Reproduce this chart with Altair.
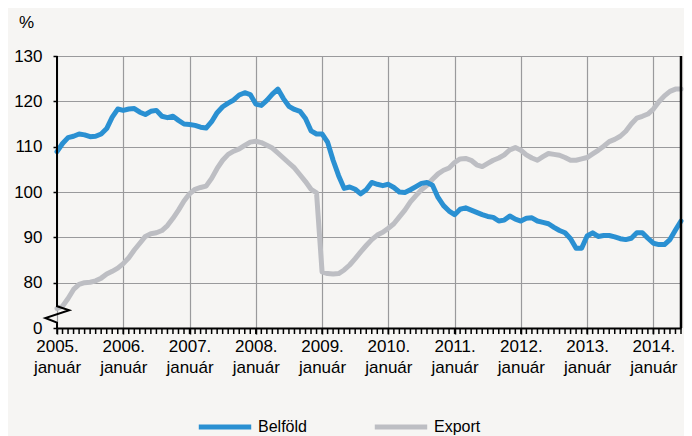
import json
import altair as alt
import pandas as pd

# ---- data (monthly, 2005 Jan .. 2014 Jun) ----
belfold = [
    108.9, 110.7, 112.0, 112.3, 112.8, 112.6, 112.2, 112.3, 112.8, 114.0, 116.5, 118.3,
    118.0, 118.3, 118.4, 117.6, 117.1, 117.8, 118.0, 116.7, 116.4, 116.7, 115.8, 115.0,
    114.9, 114.7, 114.3, 114.1, 115.5, 117.5, 118.8, 119.6, 120.3, 121.4, 121.9, 121.5,
    119.4, 119.1, 120.2, 121.6, 122.7, 120.6, 118.9, 118.2, 117.8, 116.2, 113.5, 112.8,
    112.8, 111.0, 107.0, 103.6, 100.8, 101.1, 100.6, 99.6, 100.5, 102.1, 101.7, 101.4,
    101.7, 101.0, 100.0, 99.9, 100.5, 101.2, 101.9, 102.1, 101.5, 98.8, 97.0, 95.8,
    95.0, 96.2, 96.5, 96.0, 95.5, 95.0, 94.6, 94.4, 93.6, 93.8, 94.7, 94.0,
    93.6, 94.2, 94.3, 93.6, 93.3, 93.0, 92.2, 91.5, 91.0, 89.7, 87.6, 87.6,
    90.3, 91.0, 90.2, 90.4, 90.4, 90.1, 89.7, 89.5, 89.8, 91.0, 91.0, 89.8,
    88.7, 88.4, 88.4, 89.5, 91.6, 93.6,
]
export = [
    74.3, 74.8, 76.5, 78.5, 79.6, 80.0, 80.1, 80.4, 81.0, 81.9, 82.5, 83.2,
    84.2, 85.5, 87.2, 88.7, 90.2, 90.8, 91.0, 91.5, 92.6, 94.2, 96.0, 98.0,
    99.6, 100.6, 101.0, 101.3, 103.0, 105.2, 107.0, 108.3, 109.0, 109.5, 110.3, 111.0,
    111.2, 110.9, 110.3, 109.7, 108.6, 107.5, 106.4, 105.3, 103.8, 102.3, 100.6, 99.8,
    82.4, 82.0, 81.9, 82.0, 82.8, 83.9, 85.3, 86.8, 88.2, 89.5, 90.5, 91.1,
    92.0, 93.0, 94.5, 96.0, 97.8, 99.2, 100.5, 101.5, 102.8, 104.0, 104.8, 105.3,
    106.5, 107.3, 107.4, 107.0, 106.0, 105.6, 106.3, 107.0, 107.5, 108.2, 109.3, 109.8,
    109.2, 108.2, 107.5, 107.0, 107.8, 108.5, 108.3, 108.1, 107.6, 107.0, 107.0, 107.3,
    107.6, 108.4, 109.2, 110.1, 111.1, 111.6, 112.3, 113.4, 115.0, 116.3, 116.7, 117.2,
    118.3, 119.9, 121.2, 122.2, 122.7, 122.7,
]
series_names = ["Belföld", "Export"]
year_labels = ["2005.", "2006.", "2007.", "2008.", "2009.", "2010.",
               "2011.", "2012.", "2013.", "2014."]
month_word = "január"
y_ticks = [70, 80, 90, 100, 110, 120, 130]
y_break_label = "0"
y_unit = "%"

# axis-break zigzag (x in months, y in index units)
break_x = [0, 0, 2.2, -2.1, 0, 0]
break_y = [130, 74.8, 73.9, 72.2, 71.2, 70]

BLUE = "#2a90d2"
GRAY = "#bdbec3"
BG = "#f6f5f3"
GRID = "#9a9a9c"
FONT = "Liberation Sans"
FS = 17

n = len(belfold)
months = list(range(n))
last = n - 1
year_pos = [12 * i for i in range(len(year_labels))]

# Export first so Belföld is drawn on top
df = pd.DataFrame({
    "m": months + months,
    "v": export + belfold,
    "s": ["Export"] * n + ["Belföld"] * n,
})
df_break = pd.DataFrame({"m": break_x, "v": break_y, "i": list(range(len(break_x)))})
df_border = pd.DataFrame({"m": [last], "v": [y_ticks[-1]], "v2": [y_ticks[0]]})
df_ticks = pd.DataFrame({"m": months, "v": [y_ticks[0]] * n})

x_scale = alt.Scale(domain=[0, last], nice=False, zero=False)
y_scale = alt.Scale(domain=[y_ticks[0], y_ticks[-1]], nice=False, zero=False)

label_arr = json.dumps([[y, month_word] for y in year_labels], ensure_ascii=False)
x_axis = alt.Axis(
    values=year_pos,
    labelExpr=f"{label_arr}[round(datum.value / 12)]",
    labelOverlap=False, labelFlush=False, labelBound=False,
    tickSize=6, tickColor="black", tickWidth=1.5,
    domainColor="black", domainWidth=2,
    grid=True, gridColor=GRID, gridWidth=1.2,
    labelFont=FONT, labelFontSize=FS, labelColor="black",
    labelPadding=4, labelLineHeight=21,
    title=None,
)
y_axis = alt.Axis(
    values=y_ticks,
    labelExpr=f"datum.value === {y_ticks[0]} ? '{y_break_label}' : datum.label",
    domain=False, tickSize=4, tickColor="black", tickWidth=1.5,
    grid=True, gridColor=GRID, gridWidth=1.2,
    labelFont=FONT, labelFontSize=FS, labelColor="black", labelPadding=11,
    title=y_unit, titleAngle=0, titleX=-31, titleY=-34,
    titleAlign="center", titleBaseline="middle",
    titleFont=FONT, titleFontSize=FS, titleFontWeight="normal", titleColor="black",
)

lines = alt.Chart(df).mark_line(strokeWidth=5, strokeJoin="round", strokeCap="round").encode(
    x=alt.X("m:Q", scale=x_scale, axis=x_axis),
    y=alt.Y("v:Q", scale=y_scale, axis=y_axis),
    color=alt.Color(
        "s:N",
        scale=alt.Scale(domain=series_names, range=[BLUE, GRAY]),
        legend=alt.Legend(
            orient="none", legendX=139, legendY=342, direction="horizontal",
            title=None, symbolType="stroke", symbolSize=2750, symbolStrokeWidth=5,
            labelFont=FONT, labelFontSize=16, labelColor="black",
            labelOffset=4, columnPadding=57,
        ),
    ),
)

minor = alt.Chart(df_ticks).mark_rule(color="black", strokeWidth=1.5, y2Offset=6).encode(
    x=alt.X("m:Q", scale=x_scale),
    y=alt.Y("v:Q", scale=y_scale),
    y2="v:Q",
)

brk = alt.Chart(df_break).mark_line(color="black", strokeWidth=2, clip=False).encode(
    x=alt.X("m:Q", scale=x_scale),
    y=alt.Y("v:Q", scale=y_scale),
    order="i:Q",
)

border = alt.Chart(df_border).mark_rule(color="black", strokeWidth=2.5).encode(
    x=alt.X("m:Q", scale=x_scale),
    y=alt.Y("v:Q", scale=y_scale),
    y2="v2:Q",
)

chart = alt.layer(lines, minor, brk, border).properties(
    width=624, height=272,
    autosize=alt.AutoSizeParams(type="none"),
    padding={"left": 49, "top": 48, "right": 3, "bottom": 108},
    background=BG,
).configure_view(stroke=None, fill=BG)

chart.save("out.html", embed_options={"renderer": "svg", "actions": False})
